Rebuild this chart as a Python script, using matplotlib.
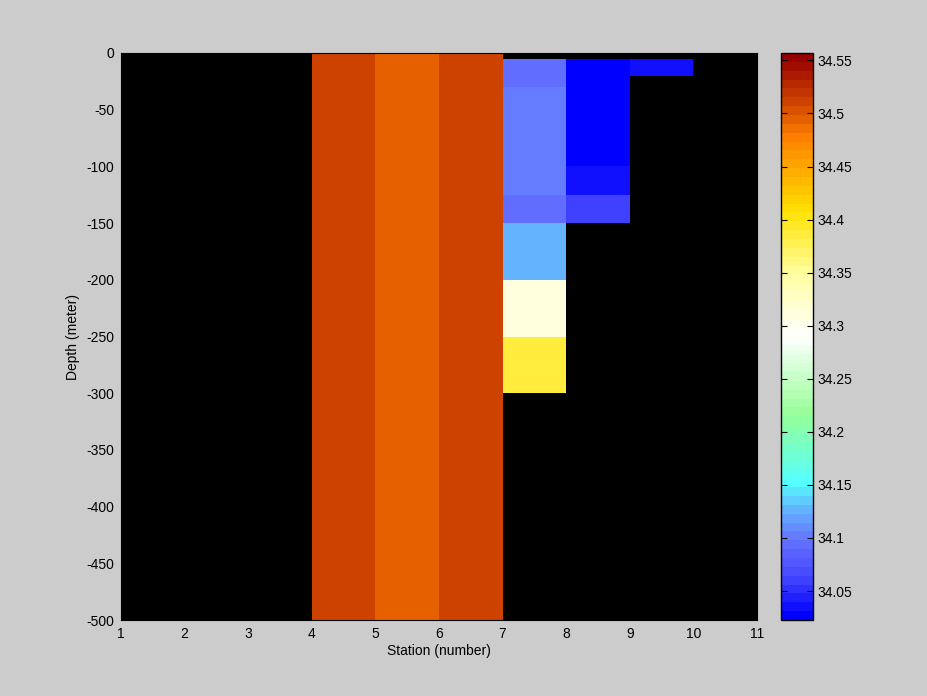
import numpy as np
import matplotlib
matplotlib.use("Agg")
import matplotlib.pyplot as plt
from matplotlib.colors import LinearSegmentedColormap, Normalize

plt.rcParams['font.family'] = ['Liberation Sans', 'DejaVu Sans']
plt.rcParams['axes.unicode_minus'] = False

# Grid
station_edges = [1, 2, 3, 4, 5, 6, 7, 8, 9, 10, 11]
depth_edges = [0, -5, -20, -30, -100, -125, -150, -200, -250, -300, -500]

nan = np.nan
# salinity per station interval (columns) and depth interval (rows)
col_4_5 = [34.514] * 10
col_5_6 = [34.498] * 10
col_6_7 = [34.514] * 10
col_7_8 = [nan, 34.090, 34.090, 34.100, 34.100, 34.090, 34.125, 34.310, 34.390, nan]
col_8_9 = [nan, 34.025, 34.025, 34.025, 34.035, 34.060, nan, nan, nan, nan]
col_9_10 = [nan, 34.035, nan, nan, nan, nan, nan, nan, nan, nan]
empty = [nan] * 10

columns = [empty, empty, empty, col_4_5, col_5_6, col_6_7, col_7_8, col_8_9, col_9_10, empty]
values = np.array(columns).T

vmin, vmax = 34.0227, 34.557
cb_ticks = [34.05, 34.1, 34.15, 34.2, 34.25, 34.3, 34.35, 34.4, 34.45, 34.5, 34.55]

# colormap anchors (value, color)
anchors = [
    (34.0227, (0/255, 0/255, 255/255)),
    (34.060, (70/255, 70/255, 255/255)),
    (34.095, (100/255, 115/255, 255/255)),
    (34.125, (100/255, 180/255, 255/255)),
    (34.150, (85/255, 255/255, 255/255)),
    (34.215, (150/255, 255/255, 150/255)),
    (34.290, (255/255, 255/255, 255/255)),
    (34.350, (255/255, 255/255, 160/255)),
    (34.410, (255/255, 225/255, 0/255)),
    (34.480, (255/255, 128/255, 0/255)),
    (34.515, (205/255, 65/255, 0/255)),
    (34.557, (150/255, 0/255, 0/255)),
]
pos = [(v - vmin) / (vmax - vmin) for v, _ in anchors]
cols = [c for _, c in anchors]
cmap = LinearSegmentedColormap.from_list('sal', list(zip(pos, cols)), N=64)
norm = Normalize(vmin=vmin, vmax=vmax)

fig = plt.figure(figsize=(9.28, 6.96), dpi=100, facecolor='#cccccc')
ax = fig.add_axes([121/928, 76/696, 636/928, 567/696])
ax.set_facecolor('black')
X, Y = np.meshgrid(station_edges, depth_edges)
mv = np.ma.masked_invalid(values)
ax.pcolormesh(X, Y, mv, cmap=cmap, norm=norm, shading='flat')
ax.set_xlim(1, 11)
ax.set_ylim(-500, 0)
ax.set_xticks(range(1, 12))
ax.set_yticks(np.arange(-500, 1, 50))
ax.tick_params(direction='in', labelsize=10, colors='black', length=0, pad=5)
ax.set_xlabel('Station (number)', fontsize=10, labelpad=2)
ax.set_ylabel('Depth (meter)', fontsize=10, labelpad=4)
for s in ax.spines.values():
    s.set_color('black')

cax = fig.add_axes([781/928, 76/696, 32/928, 567/696])
sm = matplotlib.cm.ScalarMappable(norm=norm, cmap=cmap)
cb = fig.colorbar(sm, cax=cax)
cb.set_ticks(cb_ticks)
cb.set_ticklabels([f"{t:g}" for t in cb_ticks])
cax.tick_params(direction='in', labelsize=10, length=4, left=True, right=True, colors='black')
cb.outline.set_linewidth(1)

fig.savefig('out.png', dpi=100, facecolor=fig.get_facecolor())
